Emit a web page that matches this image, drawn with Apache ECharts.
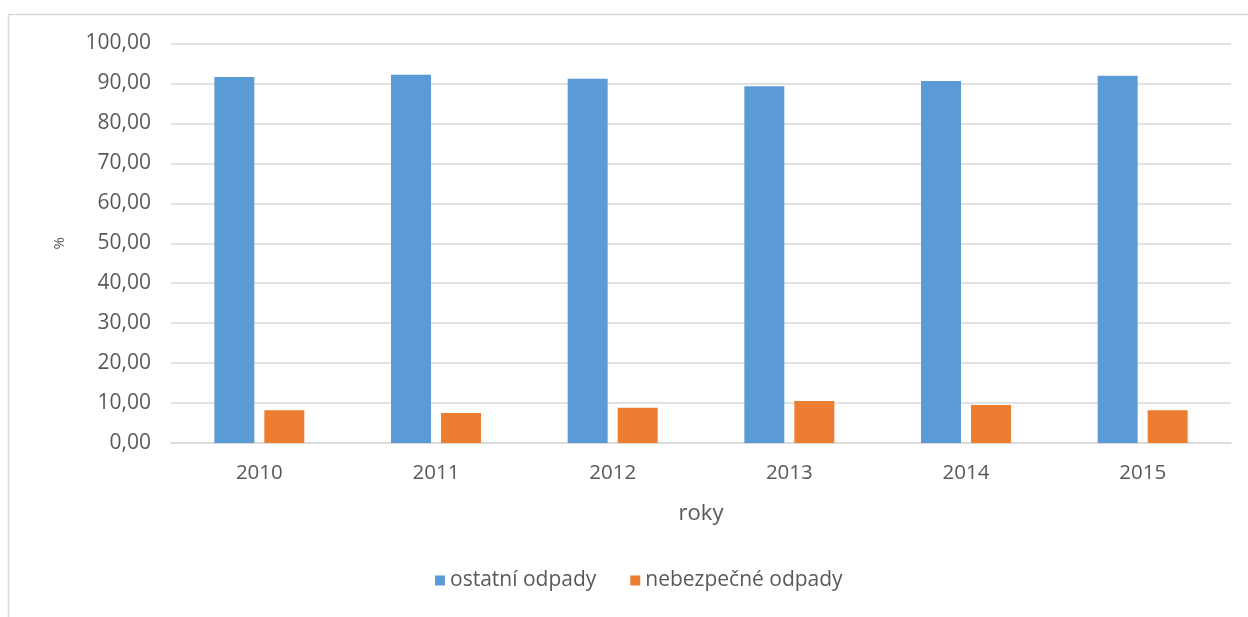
<!DOCTYPE html>
<html>
<head>
<meta charset="utf-8">
<script src="https://cdn.jsdelivr.net/npm/echarts@6/dist/echarts.min.js"></script>
<style>
  html, body { margin: 0; padding: 0; background: #fff; }
  #chart { width: 1248px; height: 617px; }
</style>
</head>
<body>
<div id="chart"></div>
<script>
var years = ['2010', '2011', '2012', '2013', '2014', '2015']
var ostatni = [91.6, 92.2, 91.2, 89.3, 90.6, 91.9]
var nebezpecne = [8.2, 7.5, 8.8, 10.5, 9.5, 8.2]
var yMin = 0
var yMax = 100
var yStep = 10

var textColor = '#595959'
var fontName = '"Open Sans", "DejaVu Sans", sans-serif'

var chart = echarts.init(document.getElementById('chart'))
var option = {
  color: ['#5B9BD5', '#ED7D31'],
  animation: false,
  // rámeček kolem grafu
  graphic: [
    {
      type: 'rect',
      shape: { x: 8.5, y: 14.5, width: 1260, height: 640 },
      style: { fill: 'none', stroke: '#d9d9d9', lineWidth: 1.5 },
      silent: true
    }
  ],
  grid: {
    left: 171,
    right: 17,
    top: 43.5,
    bottom: 174
  },
  legend: {
    bottom: 21,
    left: 430,
    itemWidth: 10,
    itemHeight: 10,
    itemGap: 34,
    icon: 'rect',
    textStyle: { color: textColor, fontSize: 21, fontFamily: fontName }
  },
  xAxis: {
    type: 'category',
    data: years,
    name: 'roky',
    nameLocation: 'middle',
    nameGap: 60,
    nameTextStyle: { color: textColor, fontSize: 22, fontFamily: fontName },
    axisTick: { show: false },
    axisLine: { lineStyle: { color: '#d9d9d9', width: 1.5 } },
    axisLabel: { color: textColor, fontSize: 20.5, fontFamily: fontName, margin: 20 }
  },
  yAxis: {
    type: 'value',
    min: yMin,
    max: yMax,
    interval: yStep,
    name: '%',
    nameLocation: 'middle',
    nameGap: 104,
    nameTextStyle: { color: textColor, fontSize: 15, fontFamily: fontName },
    axisLine: { show: false },
    axisTick: { show: false },
    axisLabel: {
      color: textColor,
      fontSize: 21,
      fontFamily: fontName,
      margin: 20,
      formatter: function(v) {
        return v.toFixed(2).replace('.', ',')
      }
    },
    splitLine: { lineStyle: { color: '#d9d9d9', width: 1.5 } }
  },
  series: [
    {
      name: 'ostatní odpady',
      type: 'bar',
      data: ostatni,
      barWidth: 40,
      barGap: '25%'
    },
    {
      name: 'nebezpečné odpady',
      type: 'bar',
      data: nebezpecne,
      barWidth: 40,
      barGap: '25%'
    }
  ]
}
chart.setOption(option)
</script>
</body>
</html>
